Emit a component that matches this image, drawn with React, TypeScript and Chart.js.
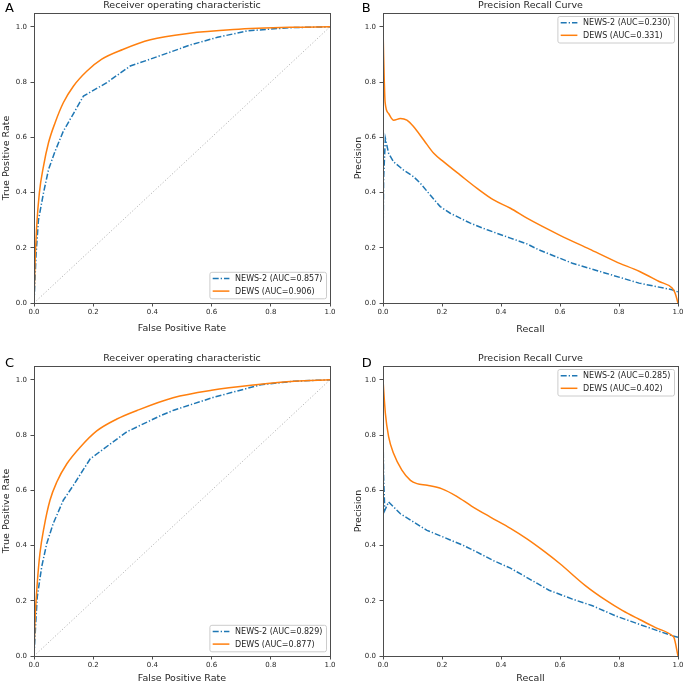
import React, { useEffect, useRef } from "react";
import { Chart, registerables } from "chart.js";

Chart.register(...registerables);

const FONT = '"DejaVu Sans", Verdana, sans-serif';
const BLUE = "#1f77b4";
const ORANGE = "#ff7f0e";
const DIAG = "#b4b4b4";
const TEXT = "#262626";
const SPINE = "#4d4d4d";
const DASHDOT = [6, 2, 1.3, 2];

// ---------- Data ----------
const diagX = [0, 1];
const diagY = [0, 1];

// Panel A: ROC
const rocA_newsFpr = [0, 0.007, 0.015, 0.032, 0.049, 0.071, 0.099, 0.128, 0.167, 0.246, 0.325, 0.393, 0.53, 0.62, 0.72, 0.8, 0.87, 1.0];
const rocA_newsTpr = [0, 0.177, 0.3, 0.398, 0.483, 0.549, 0.622, 0.676, 0.749, 0.798, 0.858, 0.883, 0.935, 0.962, 0.985, 0.992, 0.997, 1.0];
const rocA_dewsFpr = [0, 0.003, 0.009, 0.018, 0.032, 0.049, 0.071, 0.099, 0.133, 0.179, 0.229, 0.3, 0.393, 0.52, 0.674, 0.865, 1.0];
const rocA_dewsTpr = [0, 0.13, 0.276, 0.398, 0.495, 0.58, 0.652, 0.725, 0.785, 0.84, 0.883, 0.918, 0.953, 0.976, 0.99, 0.998, 1.0];
const legendA = ["NEWS-2 (AUC=0.857)", "DEWS (AUC=0.906)"];

// Panel B: PR
const prB_newsRecall = [0, 0.002, 0.008, 0.019, 0.036, 0.07, 0.104, 0.127, 0.16, 0.194, 0.228, 0.296, 0.353, 0.432, 0.488, 0.529, 0.642, 0.755, 0.868, 0.98, 1.0];
const prB_newsPrec = [0.17, 0.45, 0.596, 0.542, 0.511, 0.481, 0.457, 0.433, 0.391, 0.349, 0.325, 0.289, 0.265, 0.235, 0.214, 0.192, 0.144, 0.108, 0.072, 0.048, 0.04];
const prB_dewsRecall = [0, 0.002, 0.004, 0.007, 0.019, 0.036, 0.059, 0.081, 0.104, 0.138, 0.172, 0.206, 0.262, 0.319, 0.375, 0.432, 0.488, 0.6, 0.7, 0.789, 0.87, 0.936, 0.98, 0.99, 1.0];
const prB_dewsPrec = [1.0, 0.9, 0.818, 0.728, 0.686, 0.662, 0.668, 0.662, 0.638, 0.59, 0.542, 0.511, 0.463, 0.415, 0.373, 0.343, 0.307, 0.245, 0.195, 0.15, 0.114, 0.078, 0.054, 0.036, 0.0];
const legendB = ["NEWS-2 (AUC=0.230)", "DEWS (AUC=0.331)"];

// Panel C: ROC
const rocC_newsFpr = [0, 0.007, 0.011, 0.026, 0.043, 0.065, 0.099, 0.133, 0.19, 0.258, 0.314, 0.427, 0.472, 0.608, 0.766, 0.879, 1.0];
const rocC_newsTpr = [0, 0.142, 0.214, 0.323, 0.407, 0.48, 0.564, 0.618, 0.714, 0.768, 0.812, 0.87, 0.89, 0.937, 0.982, 0.995, 1.0];
const rocC_dewsFpr = [0, 0.003, 0.011, 0.02, 0.034, 0.054, 0.077, 0.111, 0.156, 0.212, 0.28, 0.348, 0.47, 0.6, 0.75, 0.88, 1.0];
const rocC_dewsTpr = [0, 0.118, 0.263, 0.371, 0.467, 0.564, 0.63, 0.696, 0.756, 0.815, 0.858, 0.889, 0.935, 0.962, 0.982, 0.995, 1.0];
const legendC = ["NEWS-2 (AUC=0.829)", "DEWS (AUC=0.877)"];

// Panel D: PR
const prD_newsRecall = [0, 0.002, 0.006, 0.019, 0.059, 0.104, 0.149, 0.206, 0.273, 0.319, 0.375, 0.432, 0.488, 0.563, 0.642, 0.71, 0.789, 0.868, 0.981, 1.0];
const prD_newsPrec = [0.82, 0.65, 0.527, 0.558, 0.515, 0.485, 0.455, 0.43, 0.4, 0.376, 0.345, 0.318, 0.284, 0.238, 0.206, 0.182, 0.145, 0.115, 0.073, 0.068];
const prD_dewsRecall = [0, 0.008, 0.019, 0.036, 0.064, 0.093, 0.115, 0.15, 0.2, 0.25, 0.3, 0.364, 0.432, 0.488, 0.55, 0.6, 0.687, 0.755, 0.811, 0.868, 0.924, 0.981, 0.987, 1.0];
const prD_dewsPrec = [1.0, 0.879, 0.794, 0.733, 0.673, 0.636, 0.624, 0.618, 0.605, 0.578, 0.543, 0.503, 0.462, 0.424, 0.376, 0.334, 0.254, 0.202, 0.165, 0.133, 0.103, 0.073, 0.065, 0.0];
const legendD = ["NEWS-2 (AUC=0.285)", "DEWS (AUC=0.402)"];

const rocTitle = "Receiver operating characteristic";
const prTitle = "Precision Recall Curve";

// ---------- Types ----------
type Curve = { label: string; x: number[]; y: number[]; color: string; dash: number[]; smooth: boolean };
type Spec = {
  letter: string;
  title: string;
  xLabel: string;
  yLabel: string;
  curves: Curve[];
  diagonal: boolean;
  legendCorner: "lr" | "ur";
  pos: { left: number; top: number; width: number; height: number };
  area: { left: number; right: number; top: number; bottom: number };
  letterAt: [number, number];
  yTitlePad: number;
  xTitlePad: number;
};

const toPts = (xs: number[], ys: number[]) => xs.map((x, i) => ({ x, y: ys[i] }));

const specs: Spec[] = [
  {
    letter: "A", title: rocTitle, xLabel: "False Positive Rate", yLabel: "True Positive Rate",
    curves: [
      { label: legendA[0], x: rocA_newsFpr, y: rocA_newsTpr, color: BLUE, dash: DASHDOT, smooth: false },
      { label: legendA[1], x: rocA_dewsFpr, y: rocA_dewsTpr, color: ORANGE, dash: [], smooth: true },
    ],
    diagonal: true, legendCorner: "lr",
    pos: { left: 0, top: 0, width: 342, height: 341 },
    area: { left: 34, right: 330, top: 13, bottom: 303 },
    letterAt: [5, 11.7], yTitlePad: 2.25, xTitlePad: 7.25,
  },
  {
    letter: "B", title: prTitle, xLabel: "Recall", yLabel: "Precision",
    curves: [
      { label: legendB[0], x: prB_newsRecall, y: prB_newsPrec, color: BLUE, dash: DASHDOT, smooth: false },
      { label: legendB[1], x: prB_dewsRecall, y: prB_dewsPrec, color: ORANGE, dash: [], smooth: true },
    ],
    diagonal: false, legendCorner: "ur",
    pos: { left: 342, top: 0, width: 343, height: 341 },
    area: { left: 41, right: 336, top: 13, bottom: 303 },
    letterAt: [19.7, 11.7], yTitlePad: 11.75, xTitlePad: 6.75,
  },
  {
    letter: "C", title: rocTitle, xLabel: "False Positive Rate", yLabel: "True Positive Rate",
    curves: [
      { label: legendC[0], x: rocC_newsFpr, y: rocC_newsTpr, color: BLUE, dash: DASHDOT, smooth: false },
      { label: legendC[1], x: rocC_dewsFpr, y: rocC_dewsTpr, color: ORANGE, dash: [], smooth: true },
    ],
    diagonal: true, legendCorner: "lr",
    pos: { left: 0, top: 341, width: 342, height: 342 },
    area: { left: 34, right: 330, top: 25, bottom: 315 },
    letterAt: [5, 25.7], yTitlePad: 2.25, xTitlePad: 0,
  },
  {
    letter: "D", title: prTitle, xLabel: "Recall", yLabel: "Precision",
    curves: [
      { label: legendD[0], x: prD_newsRecall, y: prD_newsPrec, color: BLUE, dash: DASHDOT, smooth: false },
      { label: legendD[1], x: prD_dewsRecall, y: prD_dewsPrec, color: ORANGE, dash: [], smooth: true },
    ],
    diagonal: false, legendCorner: "ur",
    pos: { left: 342, top: 341, width: 343, height: 342 },
    area: { left: 41, right: 336, top: 25, bottom: 315 },
    letterAt: [19.7, 25.7], yTitlePad: 11.75, xTitlePad: 0,
  },
];

function makeDecor(spec: Spec) {
  return {
    id: "decor" + spec.letter,
    afterDatasetsDraw(chart: any) {
      const { ctx, chartArea: a } = chart;
      ctx.save();
      // frame (spines)
      const al = (p: number) => Math.round(p - 0.5) + 0.5;
      ctx.strokeStyle = SPINE;
      ctx.lineWidth = 1;
      ctx.setLineDash([]);
      ctx.strokeRect(al(a.left), al(a.top), al(a.right) - al(a.left), al(a.bottom) - al(a.top));

      // legend
      ctx.font = `8px ${FONT}`;
      const tw = Math.max(...spec.curves.map((c) => ctx.measureText(c.label).width));
      const padL = 3.3, lineLen = 16.7, gap = 5.7, padR = 3.6;
      const bw = padL + lineLen + gap + tw + padR;
      const bh = 26.5;
      const bx = a.right - 4 - bw;
      const by = spec.legendCorner === "lr" ? a.bottom - 4.7 - bh : a.top + 3;
      ctx.beginPath();
      (ctx as any).roundRect ? (ctx as any).roundRect(bx + 0.5, by + 0.5, bw, bh, 2) : ctx.rect(bx + 0.5, by + 0.5, bw, bh);
      ctx.fillStyle = "rgba(255,255,255,0.85)";
      ctx.fill();
      ctx.strokeStyle = "#cccccc";
      ctx.stroke();
      spec.curves.forEach((c, i) => {
        const yy = by + 6.8 + i * 12.5;
        ctx.beginPath();
        ctx.strokeStyle = c.color;
        ctx.lineWidth = 1.5;
        ctx.setLineDash(c.dash);
        ctx.moveTo(bx + padL, yy);
        ctx.lineTo(bx + padL + lineLen, yy);
        ctx.stroke();
        ctx.setLineDash([]);
        ctx.fillStyle = TEXT;
        ctx.textAlign = "left";
        ctx.textBaseline = "middle";
        ctx.fillText(c.label, bx + padL + lineLen + gap, yy + 0.5);
      });

      // title
      ctx.font = `9.5px ${FONT}`;
      ctx.fillStyle = TEXT;
      ctx.textAlign = "center";
      ctx.textBaseline = "alphabetic";
      ctx.fillText(spec.title, (a.left + a.right) / 2, a.top - 4.8);

      // panel letter
      ctx.font = `13px ${FONT}`;
      ctx.fillStyle = "#000";
      ctx.textAlign = "left";
      ctx.fillText(spec.letter, spec.letterAt[0], spec.letterAt[1]);
      ctx.restore();
    },
  };
}

function buildConfig(spec: Spec): any {
  const datasets: any[] = spec.curves.map((c, i) => ({
    label: c.label,
    data: toPts(c.x, c.y),
    borderColor: c.color,
    backgroundColor: c.color,
    borderWidth: 1.5,
    borderDash: c.dash,
    pointRadius: 0,
    fill: false,
    tension: 0,
    cubicInterpolationMode: c.smooth ? "monotone" : "default",
    order: spec.curves.length - i,
  }));
  if (spec.diagonal) {
    datasets.unshift({
      label: "chance",
      data: toPts(diagX, diagY),
      borderColor: DIAG,
      borderWidth: 1,
      borderDash: [1.2, 2],
      pointRadius: 0,
      fill: false,
      order: 10,
    });
  }
  const { width, height } = spec.pos;
  const a = spec.area;
  const tickFont = { family: FONT, size: 7 };
  const titleFont = { family: FONT, size: 9.5, lineHeight: 1 };
  return {
    type: "line",
    data: { datasets },
    options: {
      responsive: false,
      animation: false,
      devicePixelRatio: 1,
      layout: { padding: { left: 0, top: a.top, right: width - a.right, bottom: 0 } },
      plugins: {
        legend: { display: false },
        tooltip: { enabled: false },
        title: { display: false },
      },
      scales: {
        x: {
          type: "linear",
          min: 0,
          max: 1,
          afterFit: (s: any) => { s.height = height - a.bottom; },
          ticks: {
            stepSize: 0.2, includeBounds: false, autoSkip: false, maxRotation: 0, minRotation: 0,
            padding: 1, color: TEXT, font: tickFont,
            callback: (v: any) => Number(v).toFixed(1),
          },
          grid: { drawOnChartArea: false, drawTicks: true, tickLength: 3.5, color: SPINE, lineWidth: 1 },
          border: { display: false },
          title: {
            display: true, text: spec.xLabel, color: TEXT, font: titleFont,
            padding: { top: 0, bottom: spec.xTitlePad },
          },
        },
        y: {
          type: "linear",
          min: 0,
          max: 1.05,
          afterFit: (s: any) => { s.width = a.left; },
          ticks: {
            stepSize: 0.2, includeBounds: false, autoSkip: false,
            padding: 3.5, color: TEXT, font: tickFont,
            callback: (v: any) => Number(v).toFixed(1),
          },
          grid: { drawOnChartArea: false, drawTicks: true, tickLength: 3.5, color: SPINE, lineWidth: 1 },
          border: { display: false },
          title: {
            display: true, text: spec.yLabel, color: TEXT, font: titleFont,
            padding: { top: spec.yTitlePad, bottom: 0 },
          },
        },
      },
    },
    plugins: [makeDecor(spec)],
  };
}

function Panel({ spec }: { spec: Spec }) {
  const ref = useRef<HTMLCanvasElement>(null);
  useEffect(() => {
    if (!ref.current) return;
    const chart = new Chart(ref.current, buildConfig(spec));
    return () => chart.destroy();
  }, [spec]);
  return (
    <canvas
      ref={ref}
      width={spec.pos.width}
      height={spec.pos.height}
      style={{
        position: "absolute",
        left: spec.pos.left,
        top: spec.pos.top,
        width: spec.pos.width,
        height: spec.pos.height,
      }}
    />
  );
}

export default function App() {
  return (
    <div
      style={{
        position: "fixed",
        left: 0,
        top: 0,
        width: 685,
        height: 683,
        background: "#ffffff",
        overflow: "hidden",
      }}
    >
      {specs.map((s) => (
        <Panel key={s.letter} spec={s} />
      ))}
    </div>
  );
}
